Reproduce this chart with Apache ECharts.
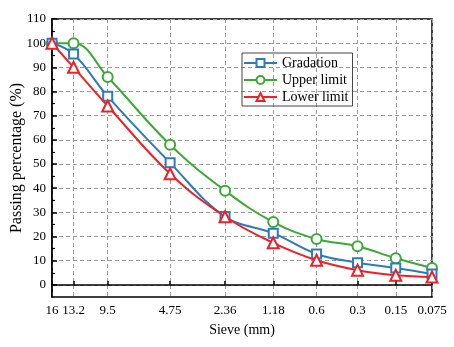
<!DOCTYPE html>
<html>
<head>
<meta charset="utf-8">
<script src="https://cdn.jsdelivr.net/npm/echarts@6/dist/echarts.min.js"></script>
<style>
  html, body { margin: 0; padding: 0; background: #fff; }
  #main { width: 454px; height: 347px; }
</style>
</head>
<body>
<div id="main"></div>
<script>
// sieve sizes and where each one sits on the (non-linear) sieve axis
const sieveLabels = ['16', '13.2', '9.5', '4.75', '2.36', '1.18', '0.6', '0.3', '0.15', '0.075']
const sievePos = [0, 21.6, 55.8, 118.3, 173.3, 221.6, 265, 306, 344.3, 380.6]
// passing percentage (%)
const gradation = [100, 95.5, 78, 50.5, 28.3, 21.4, 12.8, 9.2, 7, 4.5]
const upperLimit = [100, 100, 86, 58, 39, 26, 19, 16, 11, 7]
const lowerLimit = [100, 90, 74, 46, 28.2, 17.4, 10.2, 6.1, 4, 3.3]
// y ticks
const yTicks = [0, 10, 20, 30, 40, 50, 60, 70, 80, 90, 100, 110]
const yMinorTicks = [5, 15, 25, 35, 45, 55, 65, 75, 85, 95, 105]

const font = 'Liberation Serif'
const toPoints = vals => sievePos.map((x, i) => [x, vals[i]])

let myChart = echarts.init(document.getElementById('main'))
myChart.setOption({
  animation: false,
  textStyle: { fontFamily: font, color: '#000' },
  grid: {
    left: 52,
    right: 22,
    top: 19,
    bottom: 50,
    outerBoundsMode: 'none',
    show: true,
    borderColor: '#000',
    borderWidth: 1.5
  },
  legend: {
    orient: 'vertical',
    left: 242,
    top: 53,
    itemWidth: 33,
    itemHeight: 10,
    itemGap: 3,
    padding: [3, 4, 2, 1],
    borderColor: '#444',
    borderWidth: 1,
    textStyle: { fontFamily: font, fontSize: 14, color: '#000' },
    data: ['Gradation', 'Upper limit', 'Lower limit']
  },
  xAxis: {
    type: 'value',
    min: 0,
    max: 380.6,
    name: 'Sieve (mm)',
    nameLocation: 'middle',
    nameGap: 26,
    nameTextStyle: { fontFamily: font, fontSize: 14, color: '#000' },
    axisLine: { lineStyle: { color: '#000', width: 1.5 } },
    axisTick: { inside: true, length: 4, customValues: sievePos, lineStyle: { color: '#000', width: 1.5 } },
    axisLabel: {
      customValues: sievePos,
      fontFamily: font,
      fontSize: 13,
      color: '#000',
      margin: 7,
      formatter: v => {
        let best = 0
        sievePos.forEach((p, i) => { if (Math.abs(p - v) < Math.abs(sievePos[best] - v)) best = i })
        return sieveLabels[best]
      }
    },
    splitLine: { show: true, lineStyle: { color: '#9a9a9a', type: [4, 3], width: 1 } }
  },
  yAxis: [
    {
      type: 'value',
      min: -5,
      max: 110,
      name: 'Passing percentage (%)',
      nameLocation: 'middle',
      nameGap: 27,
      nameMoveOverlap: false,
      nameTextStyle: { fontFamily: font, fontSize: 16, color: '#000' },
      axisLine: { show: true, lineStyle: { color: '#000', width: 1.5 } },
      axisTick: { show: true, inside: true, length: 5, customValues: yTicks, lineStyle: { color: '#000', width: 1.5 } },
      axisLabel: { customValues: yTicks, fontFamily: font, fontSize: 13, color: '#000', margin: 6 },
      splitLine: { show: true, lineStyle: { color: '#9a9a9a', type: [4, 3], width: 1 } }
    },
    {
      // only for the small ticks between labels
      type: 'value',
      position: 'left',
      min: -5,
      max: 110,
      axisLine: { show: false },
      axisTick: { show: true, inside: true, length: 3, customValues: yMinorTicks, lineStyle: { color: '#000', width: 1.2 } },
      axisLabel: { show: false },
      splitLine: { show: false }
    }
  ],
  series: [
    {
      name: 'Gradation',
      type: 'line',
      smooth: 0.4,
      symbol: 'emptyRect',
      symbolSize: 9,
      color: '#2b7bbd',
      lineStyle: { width: 2 },
      itemStyle: { borderWidth: 1.5 },
      z: 4,
      data: toPoints(gradation)
    },
    {
      name: 'Upper limit',
      type: 'line',
      smooth: 0.4,
      symbol: 'emptyCircle',
      symbolSize: 10,
      color: '#3aaa35',
      lineStyle: { width: 2 },
      itemStyle: { borderWidth: 1.5 },
      z: 3,
      data: toPoints(upperLimit)
    },
    {
      name: 'Lower limit',
      type: 'line',
      smooth: 0.4,
      symbol: 'emptyTriangle',
      symbolSize: 11,
      color: '#ec2227',
      lineStyle: { width: 2 },
      itemStyle: { borderWidth: 1.5 },
      z: 5,
      data: toPoints(lowerLimit)
    }
  ]
})
</script>
</body>
</html>
